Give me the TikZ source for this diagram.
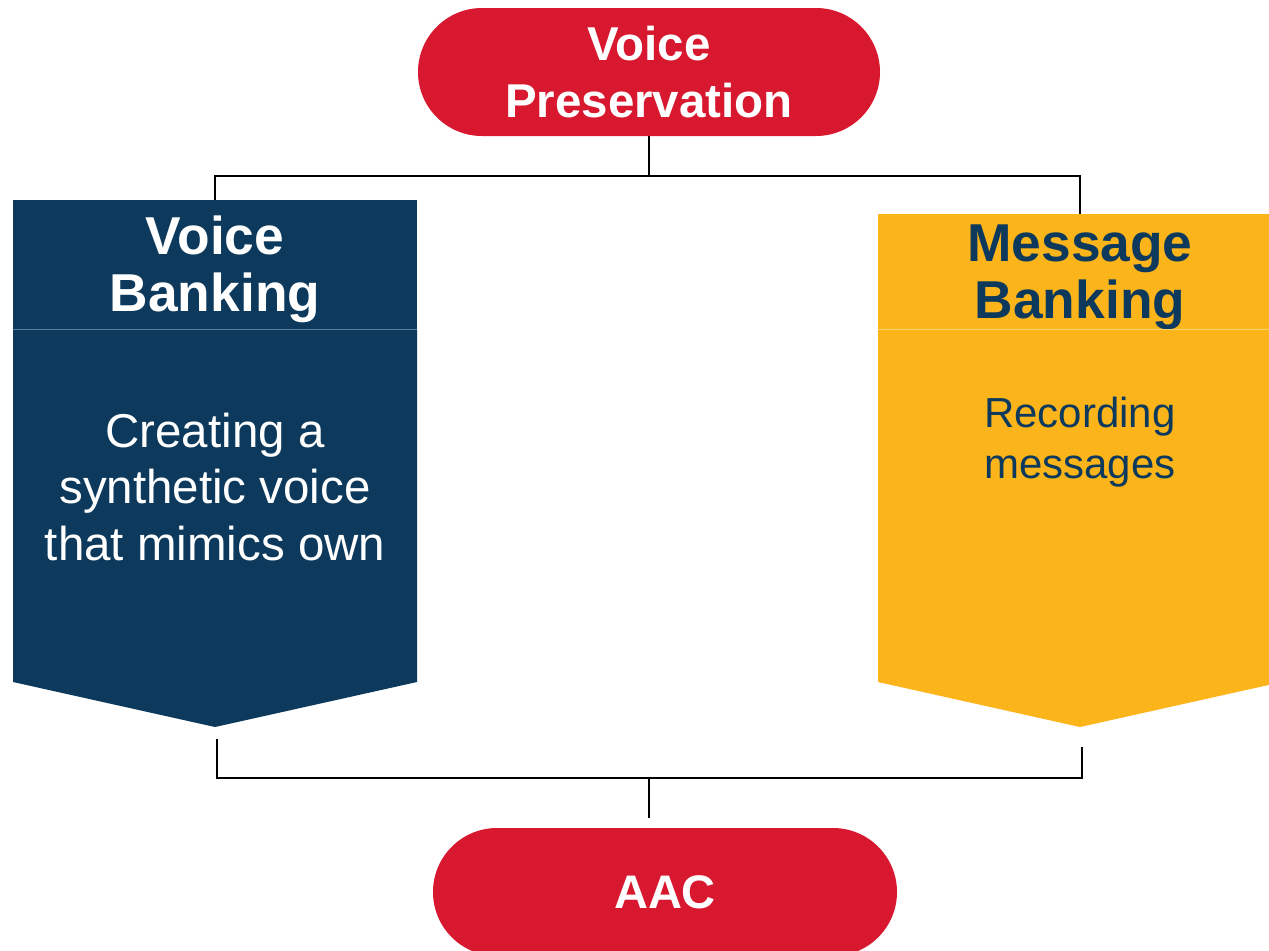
\documentclass[tikz,border=0pt]{standalone}
\usepackage{fontspec}
\setmainfont{Liberation Sans}
\usetikzlibrary{shapes.misc}
\definecolor{vred}{HTML}{D7182F}
\definecolor{vnavy}{HTML}{0D3A5C}
\definecolor{vyellow}{HTML}{FBB51B}
\definecolor{navysep}{HTML}{5A7E9C}
\definecolor{yellowsep}{HTML}{FDD270}
\tikzset{
  pill/.style={rounded rectangle, fill=vred, text=white, inner sep=0pt,
    minimum width=346.5pt, minimum height=96pt, align=center,
    font=\bfseries\fontsize{35.6}{42.75}\selectfont},
  headerbox/.style={rectangle, inner sep=0pt, minimum width=303pt},
  headertext/.style={inner sep=0pt, align=center, font=\bfseries\fontsize{40}{42.5}\selectfont},
  bodytext/.style={inner sep=0pt, align=center},
  conn/.style={draw=black, line width=1.5pt},
}
\begin{document}
\begin{tikzpicture}[x=0.75pt,y=-0.75pt]
\useasboundingbox (0,0) rectangle (1269,950);
\clip (0,0) rectangle (1269,950);
% top pill
\node[pill] (vp) at (649,72) {Voice\\Preservation};
% left box
\fill[vnavy] (13,329) -- (417,329) -- (417,682) -- (215,727) -- (13,682) -- cycle;
\node[headerbox, fill=vnavy, minimum height=97.5pt] (vb) at (215,265) {};
\node[headertext, text=white] (vbh) at (215,269) {Voice\\Banking};
\draw[navysep, line width=0.75pt] (13,329) -- (417,329);
\node[bodytext, text=white, font=\fontsize{35.6}{42.5}\selectfont] (vbt) at (215,487)
  {Creating a\\synthetic voice\\that mimics own};
% right box
\fill[vyellow] (878,329) -- (1282,329) -- (1282,682) -- (1080,727) -- (878,682) -- cycle;
\node[headerbox, fill=vyellow, minimum height=87pt] (mb) at (1080,272) {};
\node[headertext, text=vnavy] (mbh) at (1080,277) {Message\\Banking};
\draw[yellowsep, line width=0.75pt] (878,329) -- (1282,329);
\node[bodytext, text=vnavy, font=\fontsize{31.5}{38.2}\selectfont] (mbt) at (1080,442)
  {Recording\\messages};
% bottom pill
\node[pill, minimum width=348pt, font=\bfseries\fontsize{35.3}{42}\selectfont] (aac) at (665,892) {AAC};
% top connectors
\coordinate (tj) at (649,176);
\draw[conn] (vp.south) -- (tj);
\draw[conn] (vb.north) |- (tj) -| (mb.north);
% bottom connectors
\coordinate (lb) at (217,739);
\coordinate (rb) at (1082,747);
\coordinate (bj) at (649,778);
\coordinate (ain) at (649,818);
\draw[conn] (lb) |- (bj) -| (rb);
\draw[conn] (bj) -- (ain);
\end{tikzpicture}
\end{document}
